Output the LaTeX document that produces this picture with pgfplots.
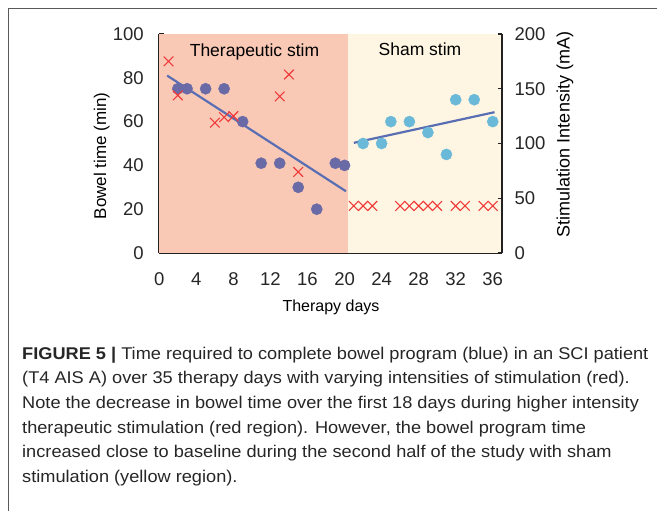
\documentclass[border=0pt]{standalone}
\usepackage{pgfplots}
\pgfplotsset{compat=1.18}
\usepackage{fontspec}
\setmainfont{Liberation Sans}
\newfontfamily\capfont{Liberation Sans}[FakeStretch=1.07]
\definecolor{redreg}{HTML}{F9C9B6}
\definecolor{yelreg}{HTML}{FEF6E2}
\definecolor{dkblue}{HTML}{6A6AA6}
\definecolor{ltblue}{HTML}{6BB9D8}
\definecolor{trend}{HTML}{5A6FB3}
\definecolor{xred}{HTML}{F03A3A}
\definecolor{axcol}{HTML}{222222}
\begin{document}
\begin{tikzpicture}
\useasboundingbox (0pt,0pt) rectangle (657pt,-511pt);
\draw[color=black!65, line width=0.9pt] (8pt,-511pt) -- (8pt,-8pt) -- (657pt,-8pt);
\pgfplotsset{
  common/.style={
    scale only axis, width=342.7pt, height=219pt,
    at={(159.3pt,-253pt)}, anchor=south west,
    xmin=0, xmax=37,
    tick align=inside, major tick length=4.5pt,
    tick style={line width=1.2pt, color=axcol},
    axis line style={line width=2.2pt, color=axcol, -},
    ticklabel style={font=\fontsize{18.5}{20}\selectfont, color=black!85},
    /pgf/number format/assume math mode=true,
    clip=false,
  }
}
\begin{axis}[common,
  ymin=0, ymax=100,
  axis x line*=bottom, axis y line*=left,
  xtick={0,4,...,36}, ytick={0,20,...,100},
  xticklabel style={yshift=-16pt},
  yticklabel style={xshift=-12pt},
]
\fill[redreg] (axis cs:0,0) rectangle (axis cs:20.4,100);
\fill[yelreg] (axis cs:20.4,0) rectangle (axis cs:37,100);
\addplot[only marks, mark=*, mark size=5.6pt, color=dkblue, mark options={draw=none, fill=dkblue}]
coordinates {(2,75) (3,75) (5,75) (7,75) (9,60) (11,41) (13,41) (15,30) (17,20) (19,41) (20,40)};
\addplot[only marks, mark=*, mark size=5.6pt, color=ltblue, mark options={draw=none, fill=ltblue}]
coordinates {(22,50) (24,50) (25,60) (27,60) (29,55) (31,45) (32,70) (34,70) (36,60)};
\addplot[trend, line width=2.2pt] coordinates {(0.85,81) (20.15,28.2)};
\addplot[trend, line width=2.2pt] coordinates {(21,50.3) (36.2,64.3)};
\end{axis}
\begin{axis}[common,
  ymin=0, ymax=200,
  axis x line=none, axis y line*=right,
  ytick={0,50,...,200},
  yticklabel style={xshift=9pt},
]
\addplot[only marks, mark=x, mark size=6.8pt, color=xred, mark options={line width=1.1pt}]
coordinates {(1,175) (2,144) (6,119) (7,124) (8,125) (13,143) (14,163) (15,74)
(21,43) (22,43) (23,43) (26,43) (27,43) (28,43) (29,43) (30,43) (32,43) (33,43) (35,43) (36,43)};
\end{axis}
\node[anchor=base, font=\fontsize{17.5}{20}\selectfont] at (254.5pt,-56.5pt) {Therapeutic stim};
\node[anchor=base, font=\fontsize{17.5}{20}\selectfont] at (420pt,-56pt) {Sham stim};
\node[anchor=base, font=\fontsize{16}{20}\selectfont] at (331pt,-311.5pt) {Therapy days};
\node[rotate=90, font=\fontsize{17}{20}\selectfont] at (101.7pt,-156pt) {Bowel time (min)};
\node[rotate=90, font=\fontsize{18}{20}\selectfont] at (565pt,-134.5pt) {Stimulation Intensity (mA)};
\node[anchor=north west, align=left, inner sep=0pt, font=\capfont\fontsize{17}{24.7}\selectfont, color=black!85] at (22pt,-346.5pt)
{\textbf{FIGURE 5 |} Time required to complete bowel program (blue) in an SCI patient\\
(T4 AIS A) over 35 therapy days with varying intensities of stimulation (red).\\
Note the decrease in bowel time over the first 18 days during higher intensity\\
therapeutic stimulation (red region). However, the bowel program time\\
increased close to baseline during the second half of the study with sham\\
stimulation (yellow region).};
\end{tikzpicture}
\end{document}
